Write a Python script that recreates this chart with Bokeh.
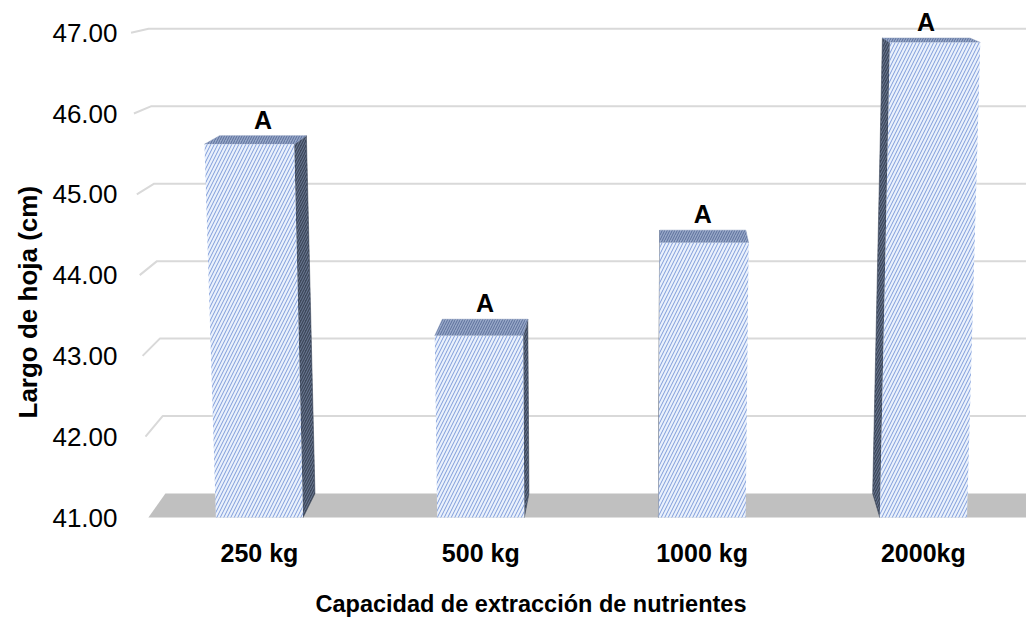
from bokeh.plotting import figure
from bokeh.models import Range1d, FixedTicker, NumeralTickFormatter, Title
from bokeh.embed import file_html
from bokeh.resources import INLINE
from bokeh.core.properties import value

# ---------------- data ----------------
categories = ["250 kg", "500 kg", "1000 kg", "2000kg"]
largo = [45.62, 43.25, 44.40, 46.88]
letters = ["A", "A", "A", "A"]
y_ticks = [41, 42, 43, 44, 45, 46, 47]

# ---------------- 3-D look (layout constants) ----------------
BASE = 41.0
HALF_W = 0.197
XVP, KX = 1.826, 0.033      # horizontal vanishing point / depth factor
YVP, KY = 48.203, 0.0412    # vertical vanishing point / depth factor
LEAN_C, LEAN = 1.573, 0.0063
X_LEFT, X_RIGHT = -0.502, 3.62
FONT = "Liberation Sans"


def P(x, v, d):
    x1 = LEAN_C + (x - LEAN_C) * (1 + LEAN * (v - BASE))
    return x1 + d * KX * (XVP - x1), v + d * KY * (YVP - v)


def poly(pts):
    return [q[0] for q in pts], [q[1] for q in pts]


p = figure(frame_width=904, frame_height=525,
           x_range=Range1d(-0.619, 3.466), y_range=Range1d(40.901, 47.399),
           output_backend="svg", toolbar_location=None,
           min_border_left=122, min_border_right=0, min_border_top=0,
           min_border_bottom=92)
p.xgrid.visible = False
p.ygrid.visible = False
p.outline_line_color = None
p.background_fill_color = "white"

# back-wall gridlines with side-wall segment
for t in y_ticks[1:]:
    xs, ys = poly([P(X_LEFT, t, 0), P(X_LEFT, t, 1), P(X_RIGHT, t, 1)])
    p.line(xs, ys, line_color="#d9d9d9", line_width=2)

# floor
fx, fy = poly([P(X_LEFT, BASE, 0), P(X_RIGHT, BASE, 0),
               P(X_RIGHT, BASE, 1), P(X_LEFT, BASE, 1)])
p.patch(fx, fy, fill_color="#c0c0c0", line_color=None)

front_xs, front_ys, top_xs, top_ys, side_xs, side_ys = [], [], [], [], [], []
lab_x, lab_y = [], []
for i, v in enumerate(largo):
    l, r = i - HALF_W, i + HALF_W
    xs, ys = poly([P(l, BASE, 0), P(r, BASE, 0), P(r, v, 0), P(l, v, 0)])
    front_xs.append(xs); front_ys.append(ys)
    xs, ys = poly([P(l, v, 0), P(r, v, 0), P(r, v, 1), P(l, v, 1)])
    top_xs.append(xs); top_ys.append(ys)
    e = r if i < XVP else l
    xs, ys = poly([P(e, BASE, 0), P(e, v, 0), P(e, v, 1), P(e, BASE, 1)])
    side_xs.append(xs); side_ys.append(ys)
    cx, cy = P(i, v, 1)
    lab_x.append(cx); lab_y.append(cy)

p.patches(side_xs, side_ys, fill_color="#3d4759", line_color="#3d4759",
          line_width=0.5, hatch_pattern="/", hatch_color="#6d7c98",
          hatch_scale=5, hatch_weight=1)
p.patches(top_xs, top_ys, fill_color="#98a8c8", line_color="#8a9abc",
          line_width=0.5, hatch_pattern="/", hatch_color="#5a6e9a",
          hatch_scale=5, hatch_weight=1)
p.patches(front_xs, front_ys, fill_color="#eaf1fc", line_color=None,
          hatch_pattern="/", hatch_color="#7e9bd9",
          hatch_scale=7, hatch_weight=1.0)

p.text(lab_x, lab_y, text=letters, text_align="center", text_baseline="bottom",
       y_offset=-2, text_font=value(FONT), text_font_style="bold",
       text_font_size="25px", text_color="black")

# axes
p.yaxis.ticker = FixedTicker(ticks=y_ticks)
p.yaxis.formatter = NumeralTickFormatter(format="0.00")
p.yaxis.axis_line_color = None
p.yaxis.major_tick_line_color = None
p.yaxis.major_tick_out = 0
p.yaxis.major_tick_in = 0
p.yaxis.minor_tick_line_color = None
p.yaxis.major_label_standoff = 5
p.yaxis.major_label_text_font = FONT
p.yaxis.major_label_text_font_size = "26px"
p.yaxis.major_label_text_color = "black"

p.xaxis.ticker = FixedTicker(ticks=list(range(len(categories))))
p.xaxis.major_label_overrides = {i: c for i, c in enumerate(categories)}
p.xaxis.axis_line_color = None
p.xaxis.major_tick_line_color = None
p.xaxis.major_tick_out = 0
p.xaxis.major_tick_in = 0
p.xaxis.minor_tick_line_color = None
p.xaxis.major_label_standoff = 13
p.xaxis.major_label_text_font = FONT
p.xaxis.major_label_text_font_style = "bold"
p.xaxis.major_label_text_font_size = "25px"
p.xaxis.major_label_text_color = "black"

xt = Title(text="Capacidad de extracción de nutrientes", align="left", offset=193,
           text_font=FONT, text_font_style="bold", text_font_size="23.5px",
           text_color="black", standoff=38)
p.add_layout(xt, "below")

yt = Title(text="Largo de hoja (cm)", align="left", offset=107,
           vertical_align="top",
           text_font=FONT, text_font_style="bold", text_font_size="26px",
           text_color="black", standoff=10)
p.add_layout(yt, "left")

open("out.html", "w").write(file_html(p, INLINE))
